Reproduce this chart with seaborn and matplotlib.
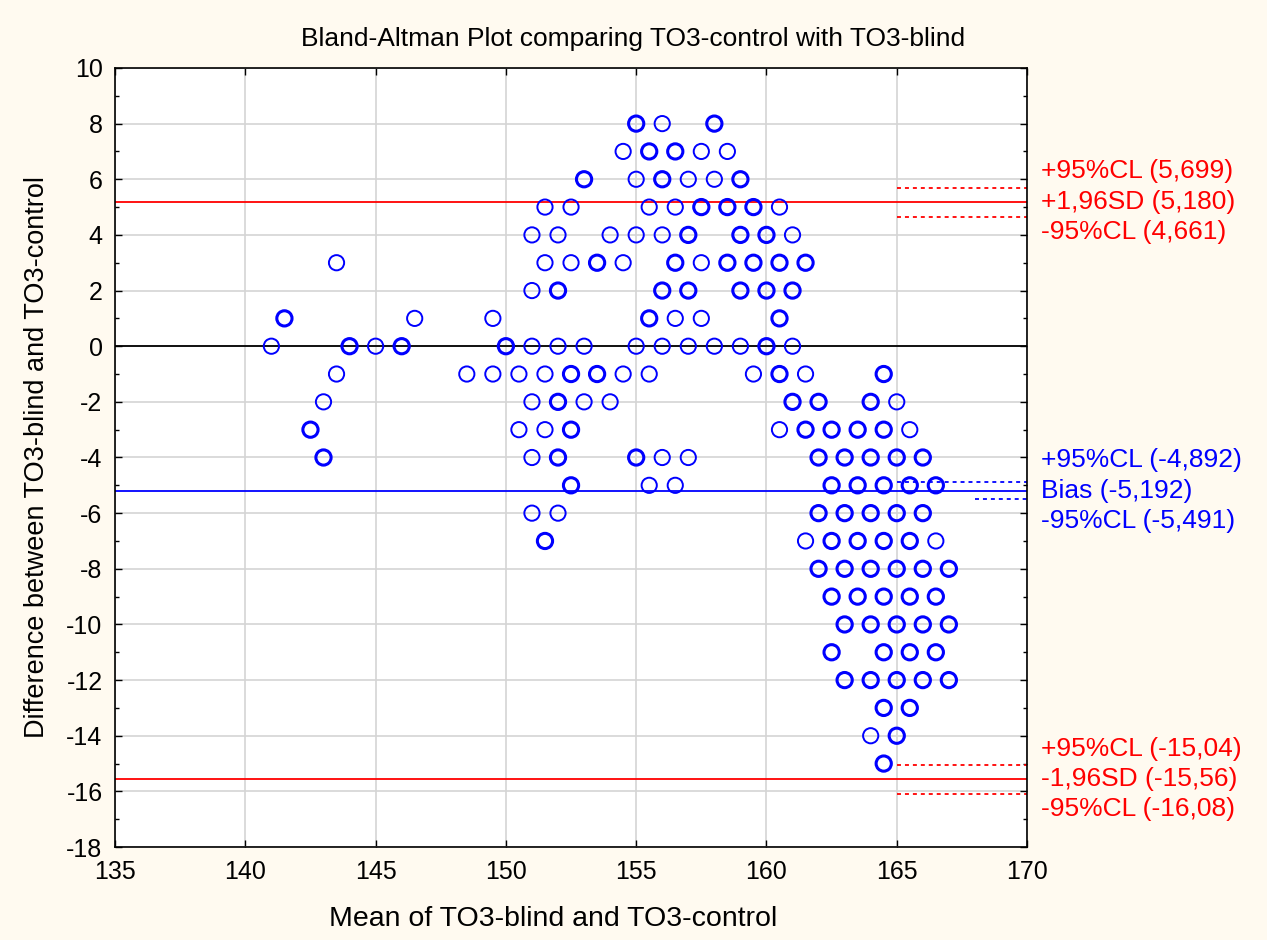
import matplotlib
matplotlib.use("Agg")
import matplotlib.pyplot as plt
import matplotlib.ticker as mticker
import seaborn as sns
import pandas as pd

# ---- data: each row = (difference, list of means) ----
rows = [
    (8, [155, 156, 158]),
    (7, [154.5, 155.5, 156.5, 157.5, 158.5]),
    (6, [153, 155, 156, 157, 158, 159]),
    (5, [151.5, 152.5, 155.5, 156.5, 157.5, 158.5, 159.5, 160.5]),
    (4, [151, 152, 154, 155, 156, 157, 159, 160, 161]),
    (3, [143.5, 151.5, 152.5, 153.5, 154.5, 156.5, 157.5, 158.5, 159.5, 160.5, 161.5]),
    (2, [151, 152, 156, 157, 159, 160, 161]),
    (1, [141.5, 146.5, 149.5, 155.5, 156.5, 157.5, 160.5]),
    (0, [141, 144, 145, 146, 150, 151, 152, 153, 155, 156, 157, 158, 159, 160, 161]),
    (-1, [143.5, 148.5, 149.5, 150.5, 151.5, 152.5, 153.5, 154.5, 155.5, 159.5, 160.5, 161.5, 164.5]),
    (-2, [143, 151, 152, 153, 154, 161, 162, 164, 165]),
    (-3, [142.5, 150.5, 151.5, 152.5, 160.5, 161.5, 162.5, 163.5, 164.5, 165.5]),
    (-4, [143, 151, 152, 155, 156, 157, 162, 163, 164, 165, 166]),
    (-5, [152.5, 155.5, 156.5, 162.5, 163.5, 164.5, 165.5, 166.5]),
    (-6, [151, 152, 162, 163, 164, 165, 166]),
    (-7, [151.5, 161.5, 162.5, 163.5, 164.5, 165.5, 166.5]),
    (-8, [162, 163, 164, 165, 166, 167]),
    (-9, [162.5, 163.5, 164.5, 165.5, 166.5]),
    (-10, [163, 164, 165, 166, 167]),
    (-11, [162.5, 164.5, 165.5, 166.5]),
    (-12, [163, 164, 165, 166, 167]),
    (-13, [164.5, 165.5]),
    (-14, [164, 165]),
    (-15, [164.5]),
]

# points that are tied (several observations at one spot -> drawn bolder)
tied = [
    (155, 8), (158, 8), (155.5, 7), (156.5, 7), (153, 6), (156, 6), (159, 6),
    (157.5, 5), (158.5, 5), (159.5, 5), (157, 4), (159, 4), (160, 4),
    (153.5, 3), (156.5, 3), (158.5, 3), (159.5, 3), (160.5, 3), (161.5, 3),
    (152, 2), (156, 2), (157, 2), (159, 2), (160, 2), (161, 2),
    (141.5, 1), (155.5, 1), (160.5, 1),
    (144, 0), (146, 0), (150, 0), (160, 0),
    (152.5, -1), (153.5, -1), (160.5, -1), (164.5, -1),
    (152, -2), (161, -2), (162, -2), (164, -2),
    (142.5, -3), (152.5, -3), (161.5, -3), (162.5, -3), (163.5, -3), (164.5, -3),
    (143, -4), (152, -4), (155, -4), (162, -4), (163, -4), (164, -4), (165, -4), (166, -4),
    (152.5, -5), (162.5, -5), (163.5, -5), (164.5, -5), (165.5, -5), (166.5, -5),
    (162, -6), (163, -6), (164, -6), (165, -6), (166, -6),
    (151.5, -7), (162.5, -7), (163.5, -7), (164.5, -7), (165.5, -7),
    (162, -8), (163, -8), (164, -8), (165, -8), (166, -8), (167, -8),
    (162.5, -9), (163.5, -9), (164.5, -9), (165.5, -9), (166.5, -9),
    (163, -10), (164, -10), (165, -10), (166, -10), (167, -10),
    (162.5, -11), (164.5, -11), (165.5, -11), (166.5, -11),
    (163, -12), (164, -12), (165, -12), (166, -12), (167, -12),
    (164.5, -13), (165.5, -13), (165, -14), (164.5, -15),
]

bias = -5.192
bias_cl = [-4.892, -5.491]
upper_sd = 5.180
upper_cl = [5.699, 4.661]
lower_sd = -15.56
lower_cl = [-15.04, -16.08]

red_labels = ["+95%CL (5,699)", "+1,96SD (5,180)", "-95%CL (4,661)"]
blue_labels = ["+95%CL (-4,892)", "Bias (-5,192)", "-95%CL (-5,491)"]
low_labels = ["+95%CL (-15,04)", "-1,96SD (-15,56)", "-95%CL (-16,08)"]

x_ticks = [135, 140, 145, 150, 155, 160, 165, 170]
y_ticks = list(range(-18, 11, 2))

# ---- build table ----
tied_set = set(tied)
recs = []
for d, ms in rows:
    for m in ms:
        recs.append({"mean": m, "diff": d, "tied": (m, d) in tied_set})
df = pd.DataFrame(recs)

sns.set_theme(style="white")
plt.rcParams["font.family"] = ["Liberation Sans", "DejaVu Sans"]
plt.rcParams["axes.unicode_minus"] = False

fig = plt.figure(figsize=(12.67, 9.40), dpi=100, facecolor="#FFFAF0")
ax = fig.add_axes([0.0908, 0.0989, 0.7198, 0.8288])
ax.set_facecolor("white")

ax.set_xlim(135, 170)
ax.set_ylim(-18, 10)
ax.set_xticks(x_ticks)
ax.set_yticks(y_ticks)
ax.yaxis.set_minor_locator(mticker.MultipleLocator(1))
ax.grid(True, which="major", color="#D4D4D4", linewidth=1.2, zorder=0)
ax.set_axisbelow(True)

# lines
ax.axhline(0, color="black", lw=1.3, zorder=2)
ax.axhline(upper_sd, color="red", lw=1.3, zorder=2)
ax.axhline(lower_sd, color="red", lw=1.3, zorder=2)
ax.axhline(bias, color="blue", lw=1.3, zorder=2)
for v in upper_cl + lower_cl:
    ax.plot([165, 170], [v, v], color="red", lw=1.3, ls=(0, (2.2, 2.2)), zorder=2)
ax.plot([165, 170], [bias_cl[0], bias_cl[0]], color="blue", lw=1.3, ls=(0, (2.2, 2.2)), zorder=2)
ax.plot([168, 170], [bias_cl[1], bias_cl[1]], color="blue", lw=1.3, ls=(0, (2.2, 2.2)), zorder=2)

# points
sns.scatterplot(data=df[~df["tied"]], x="mean", y="diff", ax=ax, marker="o",
                s=120, facecolor="none", edgecolor="blue", linewidth=1.4, zorder=3, legend=False)
sns.scatterplot(data=df[df["tied"]], x="mean", y="diff", ax=ax, marker="o",
                s=120, facecolor="none", edgecolor="blue", linewidth=2.2, zorder=3, legend=False)

ax.set_xlim(135, 170)
ax.set_ylim(-18, 10)

for sp in ax.spines.values():
    sp.set_visible(True)
    sp.set_color("black")
    sp.set_linewidth(1.2)

ax.tick_params(which="both", direction="in", top=True, right=True, left=True, bottom=True,
               color="black", labelsize=18, labelcolor="black")
ax.tick_params(which="major", length=5, width=1)
ax.tick_params(which="minor", length=3, width=1)
ax.tick_params(axis="y", which="major", pad=9)
ax.tick_params(axis="x", which="major", pad=9)

fig.suptitle("Bland-Altman Plot comparing TO3-control with TO3-blind", fontsize=19,
             x=0.5, y=0.958, va="center", color="black")
ax.set_xlabel("Mean of TO3-blind and TO3-control", fontsize=20.5, labelpad=16, color="black", x=0.48)
ax.set_ylabel("Difference between TO3-blind and TO3-control", fontsize=19.5, labelpad=12, color="black")

# right-side annotations (in data y coordinates, x in axes fraction)
def annotate(labels, center, color):
    offsets = [1.1, 0.0, -1.08]
    for lab, off in zip(labels, offsets):
        ax.text(1.015, center + off, lab, transform=ax.get_yaxis_transform(),
                color=color, fontsize=19, va="center", ha="left", clip_on=False)

annotate(red_labels, upper_sd, "red")
annotate(blue_labels, bias, "blue")
annotate(low_labels, lower_sd, "red")

fig.savefig("out.png", dpi=100, facecolor=fig.get_facecolor())
